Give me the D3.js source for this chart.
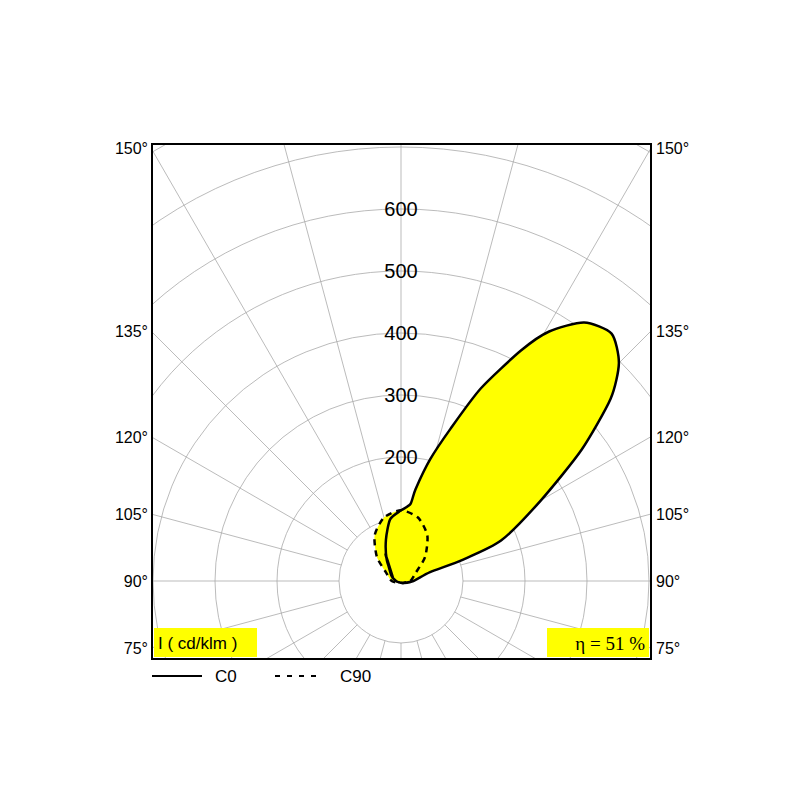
<!DOCTYPE html>
<html><head><meta charset="utf-8">
<script src="https://cdn.jsdelivr.net/npm/d3@7"></script>
<style>body{margin:0;background:#fff}</style>
</head><body>
<svg id="chart" width="800" height="800"></svg>
<script>
// gamma in degrees from nadir, positive = right half
const c0Gamma = [-150, -120, -90, -60, -30, 0, 45, 90, 107, 109, 112, 120, 126, 131, 135, 139.6, 144.7, 149.3, 152.5, 157.5, 162, 166.5, 171, 173, 180, -170, -160, -146, -117]
const c0Values = [50, 18, 8, 4, 3, 3, 5, 20, 49, 105, 174, 261, 360, 448, 497, 524, 511, 468, 419, 336, 258, 202, 150, 125, 114, 101, 71, 41, 15]
const c90Gamma = [0, 90, 120, 135, 150, 165, 180, -165, -150, -135, -120, -90]
const c90Values = [3, 15, 28, 55, 85, 106, 114, 106, 85, 55, 28, 15]
const ringLabels = [200, 300, 400, 500, 600]
const angleLabels = [75, 90, 105, 120, 135, 150]
const efficiency = 'η = 51 %'
const unitLabel = 'I ( cd/klm )'

const svg = d3.select('#chart')
const box = { x0: 152, y0: 144, x1: 651, y1: 659 }
const cx = 401, cy = 581
const r = d3.scaleLinear().domain([0, 100]).range([0, 62])

svg.append('clipPath').attr('id', 'clip')
  .append('rect').attr('x', box.x0).attr('y', box.y0)
  .attr('width', box.x1 - box.x0).attr('height', box.y1 - box.y0)

const g = svg.append('g').attr('clip-path', 'url(#clip)')

// grid rings
d3.range(100, 1000, 100).forEach(v => {
  g.append('circle').attr('cx', cx).attr('cy', cy).attr('r', r(v))
    .attr('fill', 'none').attr('stroke', '#aaa').attr('stroke-width', 0.8)
})
// radial lines every 15 deg, starting at the 100 ring
d3.range(0, 360, 15).forEach(a => {
  let rad = a * Math.PI / 180
  g.append('line')
    .attr('x1', cx + r(100) * Math.sin(rad)).attr('y1', cy + r(100) * Math.cos(rad))
    .attr('x2', cx + 900 * Math.sin(rad)).attr('y2', cy + 900 * Math.cos(rad))
    .attr('stroke', '#aaa').attr('stroke-width', 0.8)
})

const toPts = (gs, vs) => gs.map((gm, i) => [Math.PI - gm * Math.PI / 180, r(vs[i])])
const line = d3.lineRadial().curve(d3.curveCardinalClosed.tension(0.3))
const plot = g.append('g').attr('transform', `translate(${cx},${cy})`)
const c0Pts = toPts(c0Gamma, c0Values)
const c90Pts = toPts(c90Gamma, c90Values)

plot.append('path').attr('d', line(c0Pts)).attr('fill', '#ffff00')
plot.append('path').attr('d', line(c90Pts)).attr('fill', '#ffff00')
plot.append('path').attr('d', line(c0Pts)).attr('fill', 'none').attr('stroke', '#000').attr('stroke-width', 2.5)
plot.append('path').attr('d', line(c90Pts)).attr('fill', 'none').attr('stroke', '#000')
  .attr('stroke-width', 2.5).attr('stroke-dasharray', '6,5')

// ring value labels
ringLabels.forEach(v => {
  g.append('text').attr('x', cx).attr('y', cy - r(v) + 7)
    .attr('text-anchor', 'middle').attr('font-family', 'Liberation Sans, Arial')
    .attr('font-size', 20).text(v)
})

// frame
svg.append('rect').attr('x', box.x0).attr('y', box.y0)
  .attr('width', box.x1 - box.x0).attr('height', box.y1 - box.y0)
  .attr('fill', 'none').attr('stroke', '#000').attr('stroke-width', 2)

// angle labels on both sides
angleLabels.forEach(a => {
  let y = Math.max(box.y0, cy - (box.x1 - cx) * Math.tan((a - 90) * Math.PI / 180))
  svg.append('text').attr('x', box.x0 - 4).attr('y', y + 6).attr('text-anchor', 'end')
    .attr('font-family', 'Liberation Sans, Arial').attr('font-size', 16).text(a + '°')
  svg.append('text').attr('x', box.x1 + 5).attr('y', y + 6)
    .attr('font-family', 'Liberation Sans, Arial').attr('font-size', 16).text(a + '°')
})

// yellow info boxes
svg.append('rect').attr('x', 154).attr('y', 628).attr('width', 103).attr('height', 29).attr('fill', '#ffff00')
svg.append('text').attr('x', 158).attr('y', 649).attr('font-family', 'Liberation Sans, Arial')
  .attr('font-size', 17).text(unitLabel)
svg.append('rect').attr('x', 547).attr('y', 628).attr('width', 102).attr('height', 29).attr('fill', '#ffff00')
svg.append('text').attr('x', 645).attr('y', 650).attr('text-anchor', 'end')
  .attr('font-family', 'Liberation Serif, Times New Roman').attr('font-size', 19).text(efficiency)

// legend
svg.append('line').attr('x1', 152).attr('x2', 202).attr('y1', 676).attr('y2', 676).attr('stroke', '#000').attr('stroke-width', 2)
svg.append('text').attr('x', 215).attr('y', 682).attr('font-family', 'Liberation Sans, Arial').attr('font-size', 17).text('C0')
svg.append('line').attr('x1', 275).attr('x2', 322).attr('y1', 676).attr('y2', 676).attr('stroke', '#000')
  .attr('stroke-width', 2).attr('stroke-dasharray', '5,7')
svg.append('text').attr('x', 340).attr('y', 682).attr('font-family', 'Liberation Sans, Arial').attr('font-size', 17).text('C90')
</script>
</body></html>
